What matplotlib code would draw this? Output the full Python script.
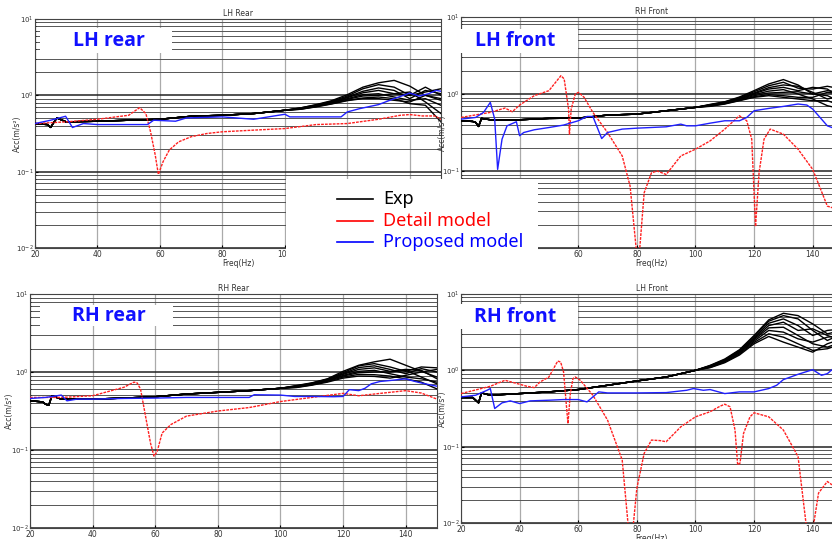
import numpy as np
import matplotlib
matplotlib.use("Agg")
import matplotlib.pyplot as plt
from matplotlib.ticker import LogLocator, NullFormatter, FixedLocator
from matplotlib.patches import Rectangle
from matplotlib.lines import Line2D

# ---------------- data ----------------
f_exp = [20, 24, 25, 26, 27, 30, 40, 50, 60, 70, 80, 90, 100,
         105, 110, 115, 120, 125, 130, 135, 140, 145, 150]

# LH rear
lhr_exp_low = [0.427, 0.414, 0.380, 0.440, 0.505, 0.449, 0.458, 0.472, 0.486, 0.532, 0.548, 0.577, 0.637]
lhr_exp_high = [
    [0.684, 0.756, 0.852, 1.02, 1.28, 1.46, 1.57, 1.32, 1.0, 0.861],
    [0.684, 0.748, 0.835, 0.98, 1.22, 1.38, 1.28, 1.0, 1.105, 1.22],
    [0.677, 0.741, 0.818, 0.951, 1.13, 1.25, 1.16, 0.905, 1.16, 1.05],
    [0.670, 0.733, 0.81, 0.932, 1.08, 1.16, 1.05, 1.0, 1.28, 1.0],
    [0.670, 0.726, 0.802, 0.905, 1.02, 1.05, 0.951, 0.861, 0.905, 0.741],
    [0.663, 0.719, 0.795, 0.887, 0.98, 1.0, 1.05, 1.105, 0.818, 0.577],
    [0.657, 0.712, 0.778, 0.861, 0.923, 0.951, 0.905, 0.778, 0.741, 0.449],
    [0.657, 0.705, 0.77, 0.852, 0.905, 0.905, 0.861, 0.818, 1.0, 0.905],
]
lhr_red_f = [20, 30, 40, 50, 53.5, 55.5, 57, 58.5, 59.5, 61, 63, 66, 70, 75, 80, 90, 100, 110, 120, 130, 137, 140, 144, 148, 150]
lhr_red_v = [0.427, 0.449, 0.486, 0.548, 0.69, 0.577, 0.333, 0.165, 0.092, 0.135, 0.192, 0.246, 0.287, 0.316, 0.333,
             0.35, 0.367, 0.414, 0.427, 0.486, 0.548, 0.56, 0.537, 0.537, 0.486]
lhr_blue_f = [20, 25, 29.8, 32, 35.5, 40, 56, 58, 65, 68.5, 80, 90, 100, 101.6, 110, 118, 120, 124, 130, 135, 140, 143, 146, 148.5, 150]
lhr_blue_v = [0.427, 0.472, 0.532, 0.379, 0.427, 0.414, 0.414, 0.472, 0.458, 0.506, 0.522, 0.486, 0.565, 0.522, 0.522,
              0.522, 0.606, 0.670, 0.756, 0.905, 1.07, 0.98, 1.05, 1.16, 1.13]

# LH front (top right panel)
lhf_exp_low = [0.449, 0.440, 0.427, 0.379, 0.482, 0.463, 0.463, 0.482, 0.486, 0.532, 0.548, 0.606, 0.670]
lhf_exp_high = [
    [0.733, 0.794, 0.914, 1.105, 1.35, 1.54, 1.31, 1.0, 1.105, 1.05],
    [0.726, 0.786, 0.896, 1.07, 1.28, 1.42, 1.19, 1.16, 1.26, 1.16],
    [0.719, 0.778, 0.878, 1.03, 1.21, 1.31, 1.26, 1.051, 0.861, 0.951],
    [0.719, 0.771, 0.869, 1.01, 1.16, 1.22, 1.105, 1.22, 1.16, 0.861],
    [0.712, 0.763, 0.861, 0.98, 1.09, 1.14, 1.0, 0.861, 0.705, 0.637],
    [0.705, 0.756, 0.844, 0.951, 1.03, 1.051, 1.07, 1.0, 0.951, 0.778],
    [0.698, 0.748, 0.827, 0.923, 0.98, 0.951, 0.905, 0.905, 1.051, 1.0],
    [0.691, 0.741, 0.818, 0.905, 0.951, 0.905, 0.861, 0.818, 0.818, 0.705],
]
lhf_red_f = [20, 30, 35, 37.5, 40, 45, 50, 54.1, 55.2, 56.7, 57, 57.6, 59, 60.1, 62, 65, 70, 75, 77.7, 80,
             80.8, 82.5, 85, 87, 90, 95, 100, 105, 110, 115, 117.5, 119.2, 120.5, 121.7, 123.4, 125.5, 130,
             135, 140, 145, 146.6]
lhf_red_v = [0.496, 0.577, 0.657, 0.588, 0.719, 0.951, 1.105, 1.73, 1.57, 0.637, 0.301, 0.637, 1.0, 1.051, 0.905,
             0.577, 0.316, 0.157, 0.0636, 0.008, 0.008, 0.0522, 0.095, 0.100, 0.090, 0.157, 0.192, 0.246, 0.35,
             0.522, 0.449, 0.259, 0.019, 0.095, 0.259, 0.35, 0.301, 0.192, 0.105, 0.035, 0.0334]
lhf_blue_f = [20, 25, 27.7, 30, 31.5, 32.5, 34, 35.7, 38.9, 40, 41.4, 45, 50, 55, 60, 63, 65, 68, 70, 75, 80, 90,
              95, 97, 100, 105, 110, 115, 117.5, 120, 125, 130, 135, 138, 140, 142.5, 145, 146.6]
lhf_blue_v = [0.472, 0.496, 0.577, 0.778, 0.472, 0.105, 0.259, 0.386, 0.436, 0.287, 0.316, 0.343, 0.367, 0.395,
              0.449, 0.511, 0.511, 0.264, 0.316, 0.35, 0.36, 0.375, 0.406, 0.386, 0.386, 0.418, 0.449, 0.449,
              0.496, 0.606, 0.65, 0.69, 0.741, 0.719, 0.637, 0.496, 0.386, 0.367]

# RH rear
rhr_exp_low = [0.427, 0.414, 0.386, 0.375, 0.496, 0.449, 0.449, 0.463, 0.482, 0.522, 0.548, 0.577, 0.618]
rhr_exp_high = [
    [0.670, 0.726, 0.818, 1.02, 1.22, 1.35, 1.46, 1.22, 1.02, 0.861],
    [0.663, 0.719, 0.81, 0.98, 1.20, 1.28, 1.16, 1.02, 1.16, 1.13],
    [0.657, 0.712, 0.802, 0.951, 1.14, 1.20, 1.08, 0.951, 1.105, 1.0],
    [0.657, 0.705, 0.795, 0.932, 1.08, 1.13, 1.02, 1.08, 1.051, 0.818],
    [0.65, 0.698, 0.778, 0.905, 1.02, 1.051, 0.951, 0.861, 0.818, 0.741],
    [0.644, 0.69, 0.77, 0.887, 0.98, 1.0, 1.0, 1.051, 0.861, 0.705],
    [0.637, 0.684, 0.756, 0.861, 0.932, 0.923, 0.887, 0.818, 0.741, 0.606],
    [0.631, 0.677, 0.741, 0.835, 0.887, 0.878, 0.835, 0.905, 1.0, 1.08],
]
rhr_red_f = [20, 30, 40, 50, 53.2, 54.2, 55.3, 56.9, 58.5, 59.6, 60.6, 62.2, 65, 70, 80, 90, 100, 110, 120, 125,
             130, 140, 145, 150]
rhr_red_v = [0.472, 0.472, 0.496, 0.637, 0.741, 0.726, 0.606, 0.272, 0.122, 0.0835, 0.095, 0.165, 0.212, 0.272,
             0.316, 0.35, 0.418, 0.472, 0.532, 0.496, 0.522, 0.577, 0.537, 0.449]
rhr_blue_f = [20, 25, 30, 31.8, 35, 40, 50, 60, 70, 80, 90, 91.6, 100, 104.5, 110, 117, 120, 122, 125, 127, 129,
              131.8, 135, 140, 143, 146.2, 150]
rhr_blue_v = [0.458, 0.472, 0.506, 0.427, 0.449, 0.449, 0.458, 0.463, 0.472, 0.472, 0.472, 0.511, 0.506, 0.486,
              0.486, 0.482, 0.486, 0.594, 0.577, 0.618, 0.705, 0.756, 0.778, 0.818, 0.756, 0.705, 0.657]

# RH front (bottom right panel)
rhf_exp_low = [0.44, 0.44, 0.406, 0.375, 0.506, 0.472, 0.496, 0.522, 0.56, 0.637, 0.726, 0.818, 1.0]
rhf_exp_high = [
    [1.162, 1.406, 1.86, 2.862, 4.58, 5.59, 5.21, 4.06, 3.008, 3.33],
    [1.150, 1.378, 1.823, 2.778, 4.40, 5.21, 4.72, 3.33, 2.462, 3.008],
    [1.139, 1.364, 1.787, 2.667, 4.14, 4.72, 3.86, 2.862, 3.33, 3.5],
    [1.128, 1.35, 1.751, 2.586, 3.86, 4.27, 3.33, 3.5, 2.862, 2.462],
    [1.116, 1.337, 1.716, 2.512, 3.6, 3.67, 2.862, 2.227, 2.016, 2.343],
    [1.105, 1.31, 1.684, 2.414, 3.33, 3.165, 2.586, 2.343, 2.72, 2.862],
    [1.094, 1.284, 1.633, 2.318, 3.008, 2.72, 2.227, 1.823, 1.917, 2.227],
    [1.083, 1.259, 1.585, 2.227, 2.778, 2.343, 2.016, 1.73, 2.227, 2.586],
]
rhf_red_f = [20, 30, 35, 40, 42.5, 45, 47, 50, 53, 54, 55, 56, 56.5, 57.3, 58.2, 59, 60.7, 65, 70, 75, 77.2, 78.6,
             80, 82.5, 85, 88, 90, 95, 100, 105, 108.4, 110, 111.8, 113.5, 114.4, 115.2, 116.4, 118.6, 120, 125,
             130, 135, 138, 140, 142, 145, 146.6]
rhf_red_v = [0.496, 0.618, 0.741, 0.657, 0.618, 0.594, 0.705, 0.818, 1.323, 1.284, 0.951, 0.333, 0.201, 0.496,
             0.778, 0.818, 0.741, 0.472, 0.223, 0.067, 0.008, 0.008, 0.0285, 0.0818, 0.122, 0.12, 0.116, 0.182,
             0.246, 0.287, 0.339, 0.36, 0.333, 0.165, 0.0578, 0.0608, 0.149, 0.246, 0.278, 0.246, 0.165, 0.0742,
             0.008, 0.008, 0.0247, 0.035, 0.0316]
rhf_blue_f = [20, 25, 28.9, 30, 31.5, 34, 36.8, 40, 43.6, 50, 55, 60, 63, 65, 67, 70, 80, 90, 97, 99.3, 102.7, 105,
              110, 115, 120, 125, 127.7, 130, 135, 140, 143, 145, 146.6]
rhf_blue_v = [0.449, 0.472, 0.548, 0.577, 0.316, 0.375, 0.398, 0.367, 0.398, 0.406, 0.414, 0.414, 0.386, 0.449,
              0.522, 0.506, 0.506, 0.511, 0.548, 0.577, 0.548, 0.56, 0.496, 0.522, 0.522, 0.577, 0.637, 0.756,
              0.887, 1.02, 0.861, 0.905, 1.02]

x_ticks = [20, 40, 60, 80, 100, 120, 140]
y_decades = [0.01, 0.1, 1, 10]
y_tick_labels = ["$10^{-2}$", "$10^{-1}$", "$10^{0}$", "$10^{1}$"]
panel_titles = ["LH Rear", "RH Front", "RH Rear", "LH Front"]
overlay_labels = ["LH rear", "LH front", "RH rear", "RH front"]
legend_labels = ["Exp", "Detail model", "Proposed model"]
legend_colors = ["black", "#ff0000", "#0000ff"]

# ---------------- layout ----------------
W, H = 832, 539
fig = plt.figure(figsize=(W / 100, H / 100), dpi=100)
fig.patch.set_facecolor("white")


def fx(x):
    return x / W


def fy(y):
    return 1 - y / H


def add_axes_px(left, right, top, bottom):
    return fig.add_axes([fx(left), fy(bottom), (right - left) / W, (bottom - top) / H])


panels = [
    (add_axes_px(35, 441, 19, 248), lhr_exp_low, lhr_exp_high, lhr_red_f, lhr_red_v, lhr_blue_f, lhr_blue_v, 13),
    (add_axes_px(461, 842, 17, 248), lhf_exp_low, lhf_exp_high, lhf_red_f, lhf_red_v, lhf_blue_f, lhf_blue_v, 14),
    (add_axes_px(30, 437, 294, 528), rhr_exp_low, rhr_exp_high, rhr_red_f, rhr_red_v, rhr_blue_f, rhr_blue_v, 16),
    (add_axes_px(461, 842, 294, 523), rhf_exp_low, rhf_exp_high, rhf_red_f, rhf_red_v, rhf_blue_f, rhf_blue_v, 14),
]

for i, (ax, low, high, rf, rv, bf, bv, ylab_off) in enumerate(panels):
    ax.set_yscale("log")
    ax.set_xlim(20, 150)
    ax.set_ylim(0.01, 10)
    ax.yaxis.set_major_locator(FixedLocator(y_decades))
    ax.set_yticklabels(y_tick_labels)
    ax.yaxis.set_minor_locator(LogLocator(base=10, subs=range(2, 10)))
    ax.yaxis.set_minor_formatter(NullFormatter())
    ax.set_xticks(x_ticks)
    ax.set_xticklabels([str(t) for t in x_ticks])
    ax.grid(which="major", axis="y", color="#222222", lw=1.1)
    ax.grid(which="minor", axis="y", color="#555555", lw=0.7)
    ax.grid(which="major", axis="x", color="#aaaaaa", lw=0.9)
    ax.set_axisbelow(True)
    ax.tick_params(axis="x", which="both", direction="in", length=2, labelsize=5.5,
                   labelcolor="#333333", pad=1.5)
    ax.tick_params(axis="y", which="both", direction="in", length=2, labelsize=5,
                   labelcolor="#333333", pad=1)
    ax.tick_params(axis="y", which="minor", length=1)
    for s in ax.spines.values():
        s.set_color("#444444")
        s.set_linewidth(0.8)
    ax.set_title(panel_titles[i], fontsize=5.5, color="#333333", pad=2)
    ax.set_xlabel("Freq(Hz)", fontsize=5.5, color="#333333", labelpad=0)
    ax.set_ylabel("Acc(m/s²)", fontsize=5.5, color="#333333")
    pos = ax.get_position()
    ax.yaxis.set_label_coords(-ylab_off / (pos.width * W), 0.5)

    for h in high:
        ax.plot(f_exp, low + h, color="black", lw=1.0, zorder=3)
    ax.plot(rf, rv, color="#ff2020", lw=1.0, ls=(0, (2, 0.8)), zorder=4)
    ax.plot(bf, bv, color="#2020ff", lw=1.0, zorder=5)

# white cover with legend
fig.add_artist(Rectangle((fx(286), fy(273)), (538 - 286) / W, (273 - 179) / H,
                         transform=fig.transFigure, facecolor="white", edgecolor="none", zorder=10))
for k, (lab, col) in enumerate(zip(legend_labels, legend_colors)):
    yy = [199, 221, 242][k]
    fig.add_artist(Line2D([fx(337), fx(373)], [fy(yy), fy(yy)], transform=fig.transFigure,
                          color=col, lw=1.2, zorder=11))
    fig.text(fx(383), fy(yy), lab, color=col, fontsize=13, family="Noto Sans",
             va="center", ha="left", zorder=12)

# overlay labels
boxes = [(40, 172, 28, 53, 73), (460, 578, 29, 53, 475), (40, 173, 305, 326, 72), (460, 578, 304, 329, 474)]
for lab, (x0, x1, y0, y1, tx) in zip(overlay_labels, boxes):
    fig.add_artist(Rectangle((fx(x0), fy(y1)), (x1 - x0) / W, (y1 - y0) / H,
                             transform=fig.transFigure, facecolor="white", edgecolor="none", zorder=10))
    fig.text(fx(tx), fy((y0 + y1) / 2 + 0.5), lab, color="#1010ff", fontsize=14, fontweight="bold",
             family=["Open Sans", "DejaVu Sans"], va="center", ha="left", zorder=12)

fig.savefig("out.png", dpi=100, facecolor="white")
